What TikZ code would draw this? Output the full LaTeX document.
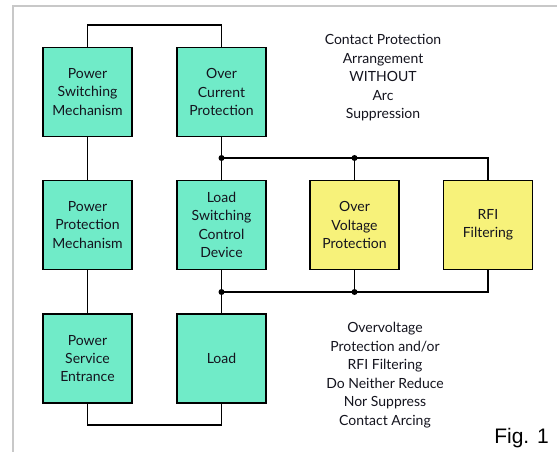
\documentclass[tikz,border=0pt]{standalone}
\usepackage{fontspec}
\setmainfont{Lato}
\newfontfamily\figfont{Liberation Sans}
\definecolor{tealbox}{RGB}{112,235,200}
\definecolor{yelbox}{RGB}{247,242,122}
\definecolor{framegray}{RGB}{200,200,200}
\definecolor{inktext}{RGB}{20,20,30}
\begin{document}
\begin{tikzpicture}[x=1bp,y=-1bp,
  blk/.style={draw=black,line width=1.6bp,minimum width=89bp,minimum height=89bp,inner sep=0pt,align=center,
    font=\fontsize{14bp}{18.4bp}\selectfont,text=inktext},
  tbox/.style={blk,fill=tealbox},
  ybox/.style={blk,fill=yelbox},
  wire/.style={line width=1.6bp,black},
  jdot/.style={circle,fill=black,inner sep=0pt,minimum size=6bp},
  note/.style={align=center,font=\fontsize{14bp}{18.5bp}\selectfont,text=inktext}]
\useasboundingbox (0,0) rectangle (557,452);
\fill[white] (0,0) rectangle (557,452);
\draw[framegray,line width=1.3bp] (13,452) -- (13,6) -- (557,6);
\node[tbox] (psm) at (87.5,92) {Power\\Switching\\Mechanism};
\node[tbox] (ocp) at (221.5,92) {Over\\Current\\Protection};
\node[tbox] (ppm) at (87.5,225) {Power\\Protection\\Mechanism};
\node[tbox] (lscd) at (221.5,225) {Load\\Switching\\Control\\Device};
\node[ybox] (ovp) at (354.5,225) {Over\\Voltage\\Protection};
\node[ybox] (rfi) at (488,225) {RFI\\Filtering};
\node[tbox] (pse) at (87.5,358.5) {Power\\Service\\Entrance};
\node[tbox] (load) at (221.5,358.5) {Load};
\coordinate (j1) at (221.5,158);
\coordinate (j2) at (354.5,158);
\coordinate (c1) at (488,158);
\coordinate (j3) at (221.5,292);
\coordinate (j4) at (354.5,292);
\coordinate (c2) at (488,292);
\draw[wire] (psm.north) |- (87.5,25) -| (ocp.north);
\draw[wire] (psm) -- (ppm);
\draw[wire] (ppm) -- (pse);
\draw[wire] (pse.south) |- (87.5,425) -| (load.south);
\draw[wire] (ocp.south) -- (j1) -- (lscd.north);
\draw[wire] (j1) -- (j2) -- (c1) -- (rfi.north);
\draw[wire] (j2) -- (ovp.north);
\draw[wire] (lscd.south) -- (j3) -- (load.north);
\draw[wire] (j3) -- (j4) -- (c2) -- (rfi.south);
\draw[wire] (j4) -- (ovp.south);
\foreach \j in {j1,j2,j3,j4} \node[jdot] at (\j) {};
\node[note] (t1) at (383,77.8) {Contact Protection\\Arrangement\\WITHOUT\\Arc\\Suppression};
\node[note] (t2) at (385,375) {Overvoltage\\Protection and/or\\RFI Filtering\\Do Neither Reduce\\Nor Suppress\\Contact Arcing};
\node[font=\figfont\fontsize{21bp}{24bp}\selectfont] (fig) at (521.5,438) {Fig. 1};
\end{tikzpicture}
\end{document}
